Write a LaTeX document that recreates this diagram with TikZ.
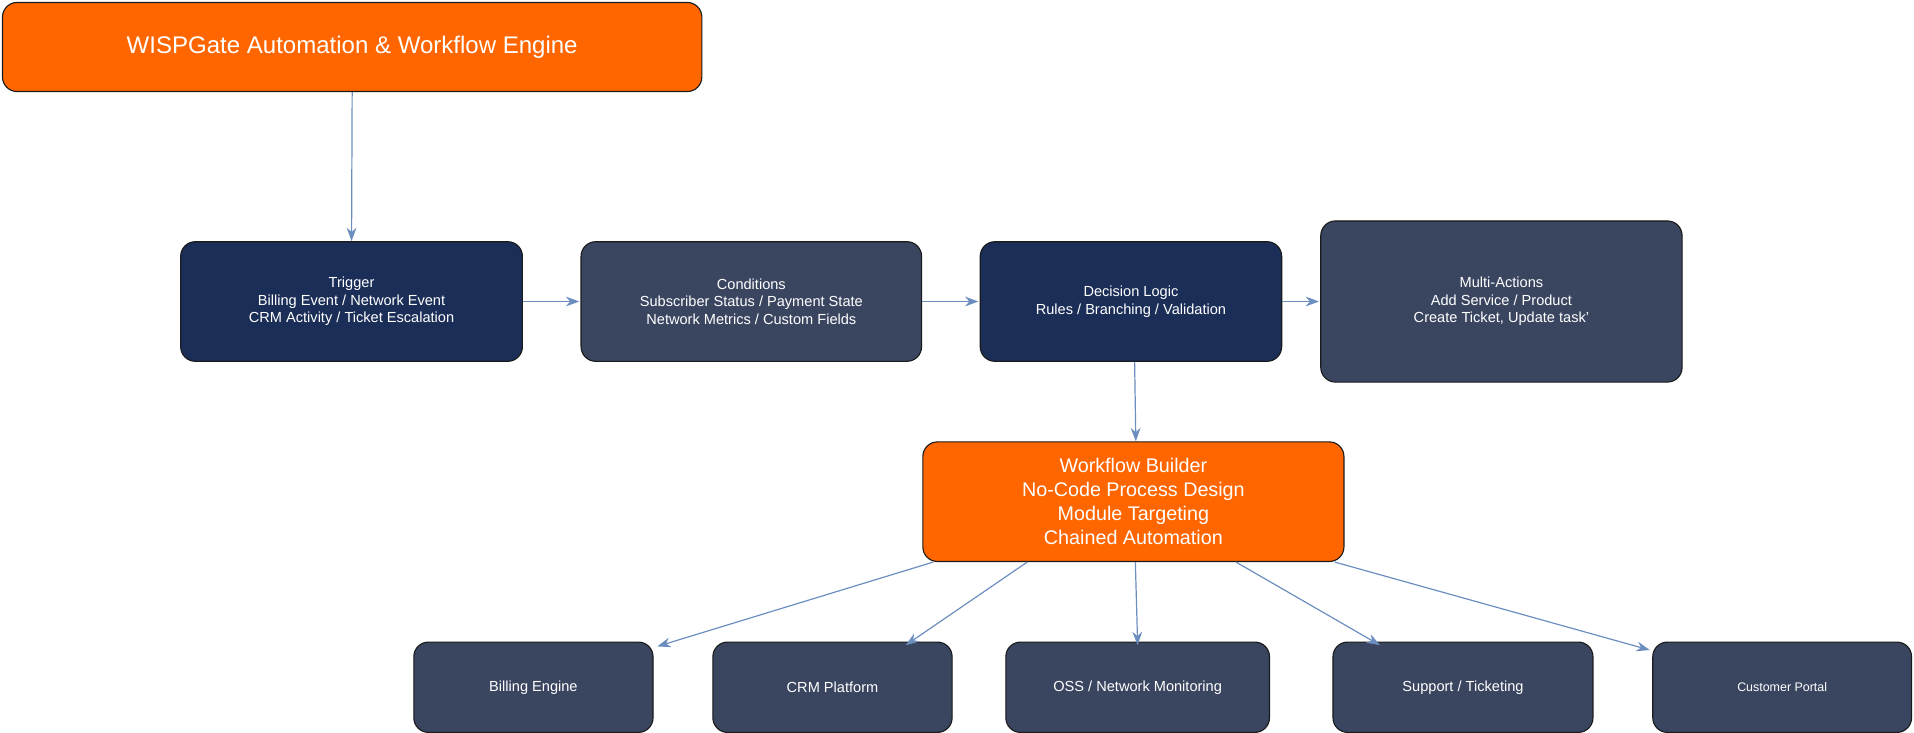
\documentclass[tikz,border=0pt]{standalone}
\usepackage{fontspec}
\setmainfont{Liberation Sans}
\usetikzlibrary{arrows.meta}
\definecolor{org}{HTML}{FF6600}
\definecolor{navy}{HTML}{1B2E57}
\definecolor{slate}{HTML}{3A4560}
\definecolor{arr}{HTML}{6C8EBF}
\definecolor{bord}{HTML}{1A1A1A}
\begin{document}
\begin{tikzpicture}[x=0.05cm,y=-0.05cm,
  box/.style={draw=bord,line width=1.3pt,rounded corners=0.6cm,inner sep=0pt,align=center,text=white,font=\fontsize{17}{20.5}\selectfont},
  obox/.style={box,fill=org},
  nbox/.style={box,fill=navy},
  sbox/.style={box,fill=slate},
  bot/.style={sbox,minimum height=3.7cm},
  ar/.style={draw=arr,line width=1.4pt,-{Stealth[length=0.55cm,width=0.4cm]}}]
\useasboundingbox (0,0) rectangle (1568,600);
\node[obox,minimum width=28.65cm,minimum height=3.65cm,font=\fontsize{28}{33}\selectfont] (T) at (288.5,38.5) {WISPGate Automation \& Workflow Engine};
\node[nbox,minimum width=14cm,minimum height=4.9cm] (Tr) at (288,247) {Trigger\\Billing Event / Network Event\\CRM Activity / Ticket Escalation};
\node[sbox,minimum width=13.95cm,minimum height=4.9cm] (Co) at (615.5,247) {Conditions\\Subscriber Status / Payment State\\Network Metrics / Custom Fields};
\node[nbox,minimum width=12.35cm,minimum height=4.9cm] (De) at (926.5,247) {Decision Logic\\Rules / Branching / Validation};
\node[sbox,minimum width=14.8cm,minimum height=6.6cm] (Mu) at (1230,247) {Multi-Actions\\Add Service / Product\\Create Ticket, Update task'};
\node[obox,minimum width=17.25cm,minimum height=4.9cm,font=\fontsize{23}{28}\selectfont] (W) at (928.5,411) {Workflow Builder\\No-Code Process Design\\Module Targeting\\Chained Automation};
\node[bot,minimum width=9.8cm] (B) at (437,563) {Billing Engine};
\node[bot,minimum width=9.8cm] (C) at (682,563) {CRM Platform};
\node[bot,minimum width=10.8cm] (O) at (932,563) {OSS / Network Monitoring};
\node[bot,minimum width=10.65cm] (S) at (1198.5,563) {Support / Ticketing};
\node[bot,minimum width=10.6cm,font=\fontsize{14.5}{17}\selectfont] (P) at (1460,563) {Customer Portal};
\draw[ar] (T.south) -- (Tr.north);
\draw[ar] (Tr.east) -- ([xshift=-0.05cm]Co.west);
\draw[ar] (Co.east) -- ([xshift=-0.05cm]De.west);
\draw[ar] (De.east) -- ([xshift=-0.05cm]Mu.west);
\draw[ar] ([xshift=0.15cm]De.south) -- ([xshift=0.1cm]W.north);
\draw[ar] ([xshift=0.45cm]W.south west) -- ([yshift=-0.2cm,xshift=0.15cm]B.north east);
\draw[ar] ([xshift=4.3cm]W.south west) -- ([xshift=3cm,yshift=-0.15cm]C.north);
\draw[ar] ([xshift=0.08cm]W.south) -- ([yshift=-0.15cm]O.north);
\draw[ar] ([xshift=12.85cm]W.south west) -- ([xshift=-3.4cm,yshift=-0.15cm]S.north);
\draw[ar] ([xshift=-0.4cm]W.south east) -- ([yshift=-0.35cm,xshift=-0.1cm]P.north west);
\end{tikzpicture}
\end{document}
